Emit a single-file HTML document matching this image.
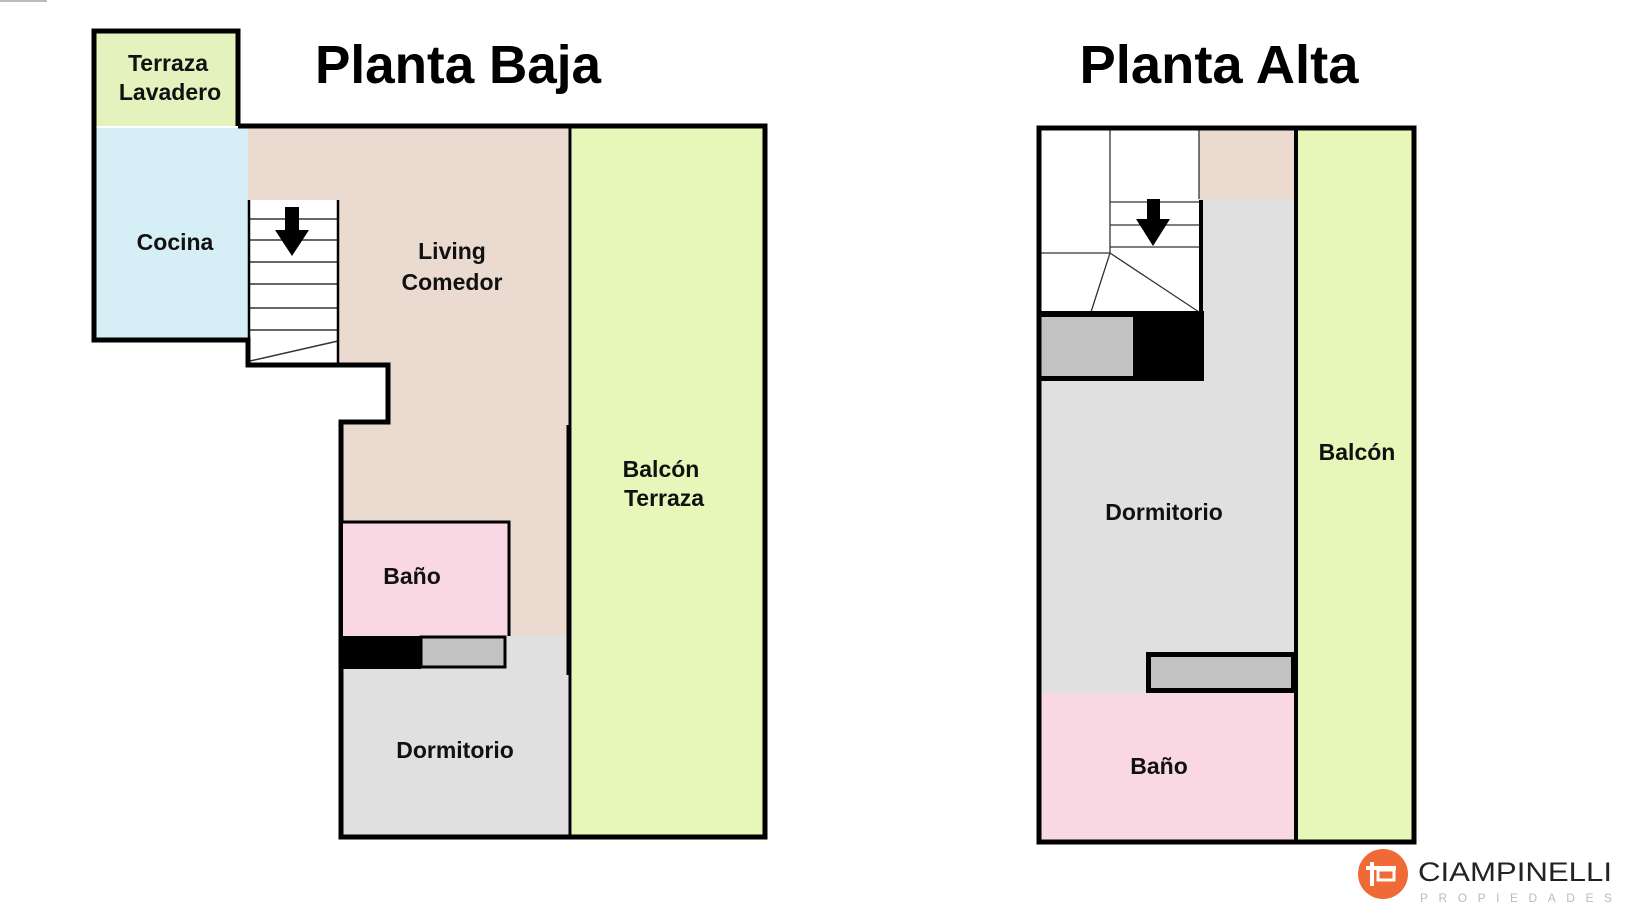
<!DOCTYPE html>
<html><head><meta charset="utf-8"><style>
html,body{margin:0;padding:0;background:#fff;width:1640px;height:924px;overflow:hidden}
svg{display:block}
.l{font-family:"Liberation Sans",Arial,sans-serif;font-weight:bold;font-size:23px;fill:#111;text-anchor:middle}
.t{font-family:"Liberation Sans",Arial,sans-serif;font-weight:bold;font-size:54px;fill:#000;text-anchor:middle}
</style></head><body>
<svg width="1640" height="924" viewBox="0 0 1640 924" xmlns="http://www.w3.org/2000/svg">
<rect x="0" y="0" width="47" height="2" fill="#bbb"/>
<text class="t" x="458" y="83" textLength="286" lengthAdjust="spacingAndGlyphs">Planta Baja</text>
<text class="t" x="1219" y="83" textLength="279" lengthAdjust="spacingAndGlyphs">Planta Alta</text>

<!-- Planta Baja -->
<rect x="95" y="31" width="143" height="95" fill="#e4f2bd"/>
<path d="M94 126 V31 H238 V126" fill="none" stroke="#000" stroke-width="5"/>
<rect x="96" y="128" width="152" height="212" fill="#d6eef5"/>
<rect x="248" y="128" width="322" height="510" fill="#ebdad0"/>
<rect x="342" y="636" width="228" height="199" fill="#e0e0e0"/>
<rect x="572" y="128" width="191" height="707" fill="#e6f7b9"/>
<path d="M248 365 H388 V422 H341 V840 H0 V365 Z" fill="#fff"/>
<rect x="248" y="200" width="90" height="163" fill="#fff"/>
<g stroke="#333" stroke-width="1.5">
<line x1="248" y1="219" x2="338" y2="219"/><line x1="248" y1="240" x2="338" y2="240"/>
<line x1="248" y1="262" x2="338" y2="262"/><line x1="248" y1="284" x2="338" y2="284"/>
<line x1="248" y1="308" x2="338" y2="308"/><line x1="248" y1="330" x2="338" y2="330"/>
<line x1="250" y1="361" x2="338" y2="341"/>
</g>
<line x1="249" y1="200" x2="249" y2="365" stroke="#000" stroke-width="2.5"/>
<line x1="338" y1="200" x2="338" y2="365" stroke="#000" stroke-width="2.5"/>
<path d="M285 207 H299 V230 H309 L292 256 L275 230 H285 Z" fill="#000"/>
<path d="M238 126 H765 V837 H341 V422 H388 V365 H248 V340 H94 V126" fill="none" stroke="#000" stroke-width="5"/>
<line x1="570" y1="126" x2="570" y2="837" stroke="#000" stroke-width="3"/>
<line x1="568" y1="425" x2="568" y2="675" stroke="#000" stroke-width="3"/>
<rect x="343" y="523" width="166" height="113" fill="#f9d8e4"/>
<path d="M341 522 H509 V636" fill="none" stroke="#000" stroke-width="3"/>
<rect x="341" y="636" width="80" height="33" fill="#000"/>
<rect x="421" y="637" width="84" height="30" fill="#c2c2c2" stroke="#000" stroke-width="3"/>

<text class="l" x="168" y="71">Terraza</text>
<text class="l" x="170" y="100">Lavadero</text>
<text class="l" x="175" y="250">Cocina</text>
<text class="l" x="452" y="259">Living</text>
<text class="l" x="452" y="290">Comedor</text>
<text class="l" x="661" y="477">Balcón</text>
<text class="l" x="664" y="506">Terraza</text>
<text class="l" x="412" y="584">Baño</text>
<text class="l" x="455" y="758">Dormitorio</text>

<!-- Planta Alta -->
<g transform="translate(-5,-1)">
<rect x="1046" y="131" width="253" height="712" fill="#e0e0e0"/>
<rect x="1303" y="131" width="116" height="712" fill="#e6f7b9"/>
<rect x="1204" y="131" width="95" height="69" fill="#ebdad0"/>
<rect x="1046" y="131" width="158" height="182" fill="#fff"/>
<g stroke="#333" stroke-width="1.3">
<line x1="1115" y1="131" x2="1115" y2="254"/>
<line x1="1046" y1="254" x2="1115" y2="254"/>
<line x1="1115" y1="203" x2="1204" y2="203"/>
<line x1="1115" y1="226" x2="1204" y2="226"/>
<line x1="1115" y1="248" x2="1204" y2="248"/>
<line x1="1115" y1="254" x2="1096" y2="313"/>
<line x1="1115" y1="254" x2="1204" y2="313"/>
<line x1="1204" y1="131" x2="1204" y2="200"/>
</g>
<line x1="1206" y1="201" x2="1206" y2="315" stroke="#000" stroke-width="4"/>
<path d="M1152 200 H1165 V220 H1175 L1158 247 L1141 220 H1152 Z" fill="#000"/>
<rect x="1046" y="312" width="163" height="70" fill="#000"/>
<rect x="1046" y="318" width="92" height="59" fill="#c2c2c2"/>
<rect x="1046" y="694" width="253" height="149" fill="#f9d8e4"/>
<rect x="1153.5" y="655.5" width="145" height="36" fill="#c2c2c2" stroke="#000" stroke-width="5"/>
<rect x="1044" y="129" width="375" height="714" fill="none" stroke="#000" stroke-width="5"/>
<line x1="1301" y1="129" x2="1301" y2="843" stroke="#000" stroke-width="4"/>
<text class="l" x="1362" y="461">Balcón</text>
<text class="l" x="1169" y="521">Dormitorio</text>
<text class="l" x="1164" y="775">Baño</text>
</g>

<!-- logo -->
<circle cx="1383" cy="874" r="25" fill="#f06a35"/>
<rect x="1370" y="862" width="4" height="24" fill="#fff"/>
<rect x="1366" y="866" width="30" height="4" fill="#fff"/>
<rect x="1378" y="870" width="16" height="10" fill="none" stroke="#fff" stroke-width="3"/>
<text x="1418" y="881" font-family="'Liberation Sans',Arial,sans-serif" font-size="27" fill="#222" textLength="194" lengthAdjust="spacingAndGlyphs">CIAMPINELLI</text>
<text x="1420" y="902" font-family="'Liberation Sans',Arial,sans-serif" font-size="12" fill="#bbb" textLength="192" lengthAdjust="spacing">PROPIEDADES</text>
</svg>
</body></html>
